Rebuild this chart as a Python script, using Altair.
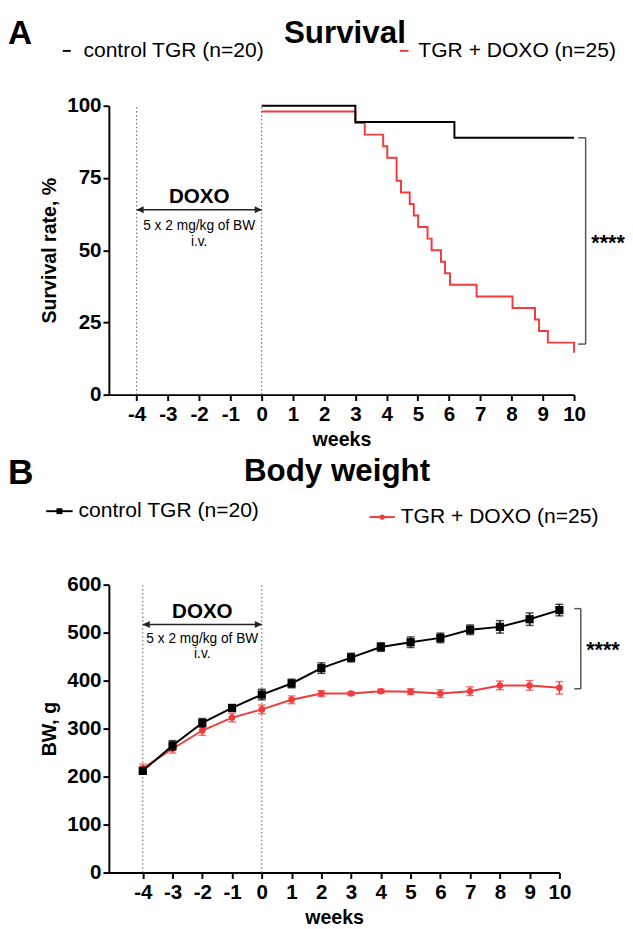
import altair as alt
import pandas as pd

FONT = "Liberation Sans"
BLACK = "#000000"
RED = "#f03c3c"
GREY = "#555555"

# ---------------- shared ----------------
week_ticks = [-4, -3, -2, -1, 0, 1, 2, 3, 4, 5, 6, 7, 8, 9, 10]
doxo_window = [-4, 0]
groups = ["control TGR (n=20)", "TGR + DOXO (n=25)"]

# ---------------- Panel A: survival ----------------
surv_ticks = [0, 25, 50, 75, 100]
ctrl_time = [0, 3.0, 6.17, 10.0]
ctrl_surv = [100, 94.4, 88.9, 88.9]
doxo_time = [0, 3.0, 3.3, 3.89, 4.02, 4.32, 4.46, 4.74, 4.87, 5.01, 5.31,
             5.44, 5.74, 5.87, 6.03, 6.88, 8.03, 8.75, 8.88, 9.16, 10.0, 10.0]
doxo_surv = [98, 94, 90, 86, 82, 74, 70, 66, 62, 58, 54,
             50, 46, 42, 38, 34, 30, 26, 22, 18, 18, 14.5]

# ---------------- Panel B: body weight ----------------
bw_ticks = [0, 100, 200, 300, 400, 500, 600]
bw_weeks = [-4, -3, -2, -1, 0, 1, 2, 3, 4, 5, 6, 7, 8, 9, 10]
ctrl_bw = [212, 265, 312, 343, 371, 394, 426, 448, 470, 480, 489, 506, 512, 528, 547]
ctrl_sem = [7, 10, 9, 7, 11, 9, 11, 9, 9, 11, 10, 10, 13, 13, 12]
doxo_bw = [217, 258, 296, 323, 340, 360, 373, 373, 378, 377, 373, 378, 390, 390, 385]
doxo_sem = [9, 9, 10, 9, 9, 8, 6, 3, 4, 6, 8, 9, 9, 10, 13]


def x_axis():
    return alt.Axis(values=week_ticks, title="weeks", labelExpr="'' + datum.value",
                    labelFont=FONT, labelFontSize=21, labelFontWeight="bold", labelColor=BLACK,
                    titleFont=FONT, titleFontSize=20, titleFontWeight="bold", titleColor=BLACK,
                    tickSize=6, tickWidth=2, tickColor=BLACK, domainWidth=2, domainColor=BLACK,
                    labelPadding=3, titlePadding=6, grid=False, labelFlush=False,
                    labelOverlap=False, labelBound=False)


def y_axis(vals, title):
    return alt.Axis(values=vals, title=title, labelExpr="'' + datum.value",
                    labelFont=FONT, labelFontSize=21, labelFontWeight="bold", labelColor=BLACK,
                    titleFont=FONT, titleFontSize=20, titleFontWeight="bold", titleColor=BLACK,
                    tickSize=6, tickWidth=2, tickColor=BLACK, domainWidth=2, domainColor=BLACK,
                    labelPadding=2, titlePadding=7, grid=False, labelFlush=False,
                    labelOverlap=False, labelBound=False)


class Enc:
    """Position-encoding factory for one panel (same scale + axis on every layer)."""

    def __init__(self, xscale, yscale, xaxis, yaxis):
        self.xs, self.ys, self.xa, self.ya = xscale, yscale, xaxis, yaxis

    def X(self, field):
        return alt.X(field, scale=self.xs, axis=self.xa)

    def Y(self, field):
        return alt.Y(field, scale=self.ys, axis=self.ya)


def text_layer(label, x, y, size, weight="normal", align="center", color=BLACK, baseline="middle"):
    return alt.Chart(pd.DataFrame({"t": [label]})).mark_text(
        font=FONT, fontSize=size, fontWeight=weight, align=align, baseline=baseline, color=color
    ).encode(text="t:N", x=alt.value(x), y=alt.value(y))


def data_text(e, label, xv, yv, size, weight="normal", align="center"):
    return alt.Chart(pd.DataFrame({"t": [label], "x": [xv], "y": [yv]})).mark_text(
        font=FONT, fontSize=size, fontWeight=weight, align=align, baseline="middle", color=BLACK
    ).encode(text="t:N", x=e.X("x:Q"), y=e.Y("y:Q"))


def doxo_annotation(e, y_lo, y_hi, y_arrow, y_doxo, y_l1, y_l2):
    rules = alt.Chart(pd.DataFrame({"week": doxo_window, "lo": [y_lo, y_lo], "hi": [y_hi, y_hi]})).mark_rule(
        strokeDash=[1.5, 2.5], color=GREY, strokeWidth=1
    ).encode(x=e.X("week:Q"), y=e.Y("lo:Q"), y2="hi:Q")
    arrow = alt.Chart(pd.DataFrame({"a": [doxo_window[0]], "b": [doxo_window[1]], "y": [y_arrow]})).mark_rule(
        color="#222222", strokeWidth=1.5
    ).encode(x=e.X("a:Q"), x2="b:Q", y=e.Y("y:Q"))
    heads = alt.Chart(pd.DataFrame({"x": doxo_window, "y": [y_arrow, y_arrow],
                                    "s": ["M0,0 L1,-0.5 L1,0.5 Z", "M0,0 L-1,-0.5 L-1,0.5 Z"]})).mark_point(
        filled=True, color="#222222", size=200, opacity=1
    ).encode(x=e.X("x:Q"), y=e.Y("y:Q"), shape=alt.Shape("s:N", scale=None))
    mid = (doxo_window[0] + doxo_window[1]) / 2
    t1 = data_text(e, "DOXO", mid, y_doxo, 21, "bold")
    t2 = data_text(e, "5 x 2 mg/kg of BW", mid, y_l1, 14)
    t3 = data_text(e, "i.v.", mid, y_l2, 14)
    return [rules, arrow, heads, t1, t2, t3]


def bracket(e, x_left, x_right, y_top, y_bot, x_star, y_star):
    df = pd.DataFrame({"x": [x_right], "y": [y_top], "y2": [y_bot]})
    v = alt.Chart(df).mark_rule(color=GREY, strokeWidth=1.5).encode(
        x=e.X("x:Q"), y=e.Y("y:Q"), y2="y2:Q")
    hdf = pd.DataFrame({"a": [x_left, x_left], "b": [x_right, x_right], "y": [y_top, y_bot]})
    h = alt.Chart(hdf).mark_rule(color=GREY, strokeWidth=1.5).encode(
        x=e.X("a:Q"), x2="b:Q", y=e.Y("y:Q"))
    star = data_text(e, "****", x_star, y_star, 22, "bold", align="left")
    return [v, h, star]


# ================= Panel A =================
WA, HA = 475, 295
eA = Enc(alt.Scale(domain=[-4.89, 10], nice=False, zero=False),
         alt.Scale(domain=[0, 100], nice=False),
         x_axis(), y_axis(surv_ticks, "Survival rate, %"))

ctrl_df = pd.DataFrame({"week": ctrl_time, "surv": ctrl_surv, "o": range(len(ctrl_time))})
doxo_df = pd.DataFrame({"week": doxo_time, "surv": doxo_surv, "o": range(len(doxo_time))})

red_line = alt.Chart(doxo_df).mark_line(interpolate="step-after", color=RED, strokeWidth=2).encode(
    x=eA.X("week:Q"), y=eA.Y("surv:Q"), order="o:Q")
black_line = alt.Chart(ctrl_df).mark_line(interpolate="step-after", color=BLACK, strokeWidth=2).encode(
    x=eA.X("week:Q"), y=eA.Y("surv:Q"), order="o:Q")

headerA = [
    text_layer("A", -103, -73, 34, "bold", align="left"),
    text_layer("Survival", 241, -74, 32, "bold"),
    alt.Chart(pd.DataFrame({"a": [0]})).mark_rule(color=BLACK, strokeWidth=2).encode(
        x=alt.value(-47), x2=alt.value(-39), y=alt.value(-56)),
    text_layer(groups[0], -26, -56, 21.5, align="left"),
    alt.Chart(pd.DataFrame({"a": [0]})).mark_rule(color=RED, strokeWidth=2).encode(
        x=alt.value(297), x2=alt.value(306), y=alt.value(-56)),
    text_layer(groups[1], 316, -56, 21.5, align="left"),
]

panelA = alt.layer(
    *doxo_annotation(eA, 0, 100, 64, 68.3, 58.5, 52.7),
    red_line, black_line,
    *bracket(eA, 10.13, 10.37, 88.9, 17.5, 10.55, 52.5),
    *headerA,
).properties(width=WA, height=HA)

# ================= Panel B =================
WB, HB = 460, 294
eB = Enc(alt.Scale(domain=[-5.14, 10], nice=False, zero=False),
         alt.Scale(domain=[0, 600], nice=False),
         x_axis(), y_axis(bw_ticks, "BW, g"))

bw_df = pd.DataFrame({
    "week": bw_weeks * 2,
    "bw": ctrl_bw + doxo_bw,
    "lo": [m - s for m, s in zip(ctrl_bw, ctrl_sem)] + [m - s for m, s in zip(doxo_bw, doxo_sem)],
    "hi": [m + s for m, s in zip(ctrl_bw, ctrl_sem)] + [m + s for m, s in zip(doxo_bw, doxo_sem)],
    "group": [groups[0]] * len(bw_weeks) + [groups[1]] * len(bw_weeks),
})
ctrl_b = bw_df[bw_df.group == groups[0]]
doxo_b = bw_df[bw_df.group == groups[1]]


def series(df, color, shape, size):
    line = alt.Chart(df).mark_line(color=color, strokeWidth=2).encode(
        x=eB.X("week:Q"), y=eB.Y("bw:Q"))
    err = alt.Chart(df).mark_rule(color=color, strokeWidth=1.5).encode(
        x=eB.X("week:Q"), y=eB.Y("lo:Q"), y2="hi:Q")
    cap_lo = alt.Chart(df).mark_tick(color=color, thickness=1.5, size=8, orient="horizontal").encode(
        x=eB.X("week:Q"), y=eB.Y("lo:Q"))
    cap_hi = alt.Chart(df).mark_tick(color=color, thickness=1.5, size=8, orient="horizontal").encode(
        x=eB.X("week:Q"), y=eB.Y("hi:Q"))
    pts = alt.Chart(df).mark_point(color=color, filled=True, shape=shape, size=size, opacity=1).encode(
        x=eB.X("week:Q"), y=eB.Y("bw:Q"))
    return [line, err, cap_lo, cap_hi, pts]


headerB = [
    text_layer("B", -103, -114, 36, "bold", align="left"),
    text_layer("Body weight", 233, -116, 32, "bold"),
    alt.Chart(pd.DataFrame({"a": [0]})).mark_rule(color=BLACK, strokeWidth=2).encode(
        x=alt.value(-64), x2=alt.value(-37), y=alt.value(-75)),
    alt.Chart(pd.DataFrame({"a": [0]})).mark_point(color=BLACK, filled=True, shape="square", size=36, opacity=1).encode(
        x=alt.value(-50.5), y=alt.value(-75)),
    text_layer(groups[0], -31, -75, 21.5, align="left"),
    alt.Chart(pd.DataFrame({"a": [0]})).mark_rule(color=RED, strokeWidth=2).encode(
        x=alt.value(266), x2=alt.value(292), y=alt.value(-69)),
    alt.Chart(pd.DataFrame({"a": [0]})).mark_point(color=RED, filled=True, shape="circle", size=30, opacity=1).encode(
        x=alt.value(279), y=alt.value(-69)),
    text_layer(groups[1], 298, -69, 21.5, align="left"),
]

panelB = alt.layer(
    *doxo_annotation(eB, 0, 600, 517, 542, 486, 455),
    *series(doxo_b, RED, "circle", 45),
    *series(ctrl_b, BLACK, "square", 70),
    *bracket(eB, 10.5, 10.72, 550, 383, 10.9, 463),
    *headerB,
).properties(width=WB, height=HB)

chart = alt.concat(panelA, panelB, columns=1, spacing=6).properties(
    padding={"left": 0, "top": 0, "right": 0, "bottom": 0}, background="white"
).configure_view(stroke=None)

chart.save("out.html", embed_options={"renderer": "svg", "actions": False})
